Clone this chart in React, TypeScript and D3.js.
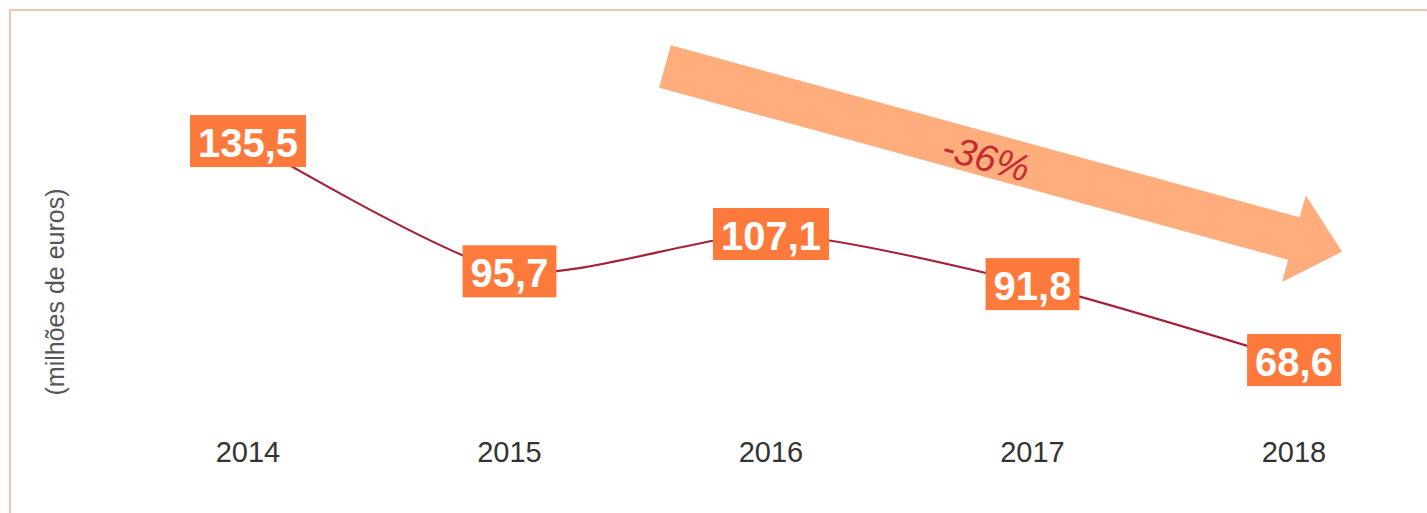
import React from "react";
import * as d3 from "d3";

const years = ["2014", "2015", "2016", "2017", "2018"];
const values = [135.5, 95.7, 107.1, 91.8, 68.6];
const changeLabel = "-36%";
const axisTitle = "(milhões de euros)";

const W = 1427;
const H = 513;

export default function App() {
  const x = d3.scalePoint<string>().domain(years).range([248, 1294]);
  const y = d3.scaleLinear().domain([60, 140]).range([388.2, 126.3]);
  const fmt = (v: number) => v.toFixed(1).replace(".", ",");

  const line = d3
    .line<number>()
    .x((_, i) => x(years[i]) as number)
    .y((d) => y(d))
    .curve(d3.curveCardinal.tension(0.3));

  const ax0 = 665, ay0 = 66.5, ang = 15.3;
  const len = 702, hw = 22, headHw = 45, headLen = 50;
  const arrowPts: [number, number][] = [
    [0, -hw],
    [len - headLen, -hw],
    [len - headLen, -headHw],
    [len, 0],
    [len - headLen, headHw],
    [len - headLen, hw],
    [0, hw],
  ];
  const arrowPath = "M" + arrowPts.map((p) => p.join(",")).join("L") + "Z";

  const boxPadX = 8;
  const fontSize = 40;

  return (
    <svg
      width={W}
      height={H}
      style={{ position: "absolute", left: 0, top: 0, display: "block", background: "#fff" }}
      fontFamily="'Liberation Sans', Arial, sans-serif"
    >
      <rect x={10} y={10} width={W + 20} height={H + 20} fill="none" stroke="#f3b79c" strokeWidth={1.5} />

      <g transform={`translate(${ax0},${ay0}) rotate(${ang})`}>
        <path d={arrowPath} fill="#ffad7c" />
      </g>
      <text
        x={986}
        y={158}
        transform={`rotate(${ang} 986 158)`}
        textAnchor="middle"
        dominantBaseline="central"
        fontSize={38}
        fontStyle="italic"
        fill="#c52a30"
      >
        {changeLabel}
      </text>

      <text
        transform={`translate(55,292) rotate(-90)`}
        textAnchor="middle"
        dominantBaseline="central"
        fontSize={25}
        fill="#555"
      >
        {axisTitle}
      </text>

      <path d={line(values) || ""} fill="none" stroke="#a3243a" strokeWidth={2.2} />

      {values.map((v, i) => {
        const label = fmt(v);
        const tw = label.replace(",", "").length * 0.556 * fontSize + 0.278 * fontSize;
        const bw = tw + boxPadX * 2;
        const cx = x(years[i]) as number;
        const cy = y(v);
        return (
          <g key={years[i]}>
            <rect x={cx - bw / 2} y={cy - 26} width={bw} height={52} fill="#fd7a3c" />
            <text
              x={cx}
              y={cy + 2}
              textAnchor="middle"
              dominantBaseline="central"
              fontSize={fontSize}
              fontWeight="bold"
              fill="#fff"
            >
              {label}
            </text>
          </g>
        );
      })}

      {years.map((yr) => (
        <text
          key={yr}
          x={x(yr) as number}
          y={452}
          textAnchor="middle"
          dominantBaseline="central"
          fontSize={29}
          fill="#333"
        >
          {yr}
        </text>
      ))}
    </svg>
  );
}
